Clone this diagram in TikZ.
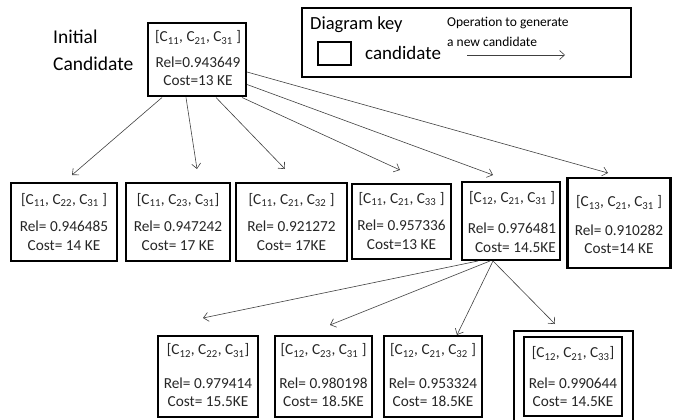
\documentclass[tikz,border=0pt]{standalone}
\usepackage{fontspec}
\setmainfont{Carlito}
\usetikzlibrary{arrows.meta}
\newcommand{\cs}[1]{C\textsubscript{#1}}
\tikzset{
  cand/.style={draw=black, line width=2pt, rectangle, inner sep=0pt},
  ctext/.style={align=center, font=\fontsize{15.3}{18.5}\selectfont, inner sep=0pt, text=black!85},
  op/.style={draw=black!75, line width=0.6pt, -{Straight Barb[length=5pt,width=9pt]}},
  keytext/.style={inner sep=0pt, anchor=west},
}
\begin{document}
\begin{tikzpicture}[x=1pt,y=-1pt]
\useasboundingbox (0,0) rectangle (673,420);
% initial candidate
\node[keytext, font=\fontsize{19.5}{27}\selectfont, align=left, anchor=north west] (lbl) at (53,30) {Initial\\Candidate};
\node[cand, minimum width=98pt, minimum height=73pt] (init) at (197,60) {};
\node[ctext] (tinit) at (198,58.5) {[\cs{11}, \cs{21}, \cs{31} ]\\[7pt]Rel=0.943649\\Cost=13 KE};
% key
\node[cand, minimum width=329pt, minimum height=69pt] (key) at (466.5,42.5) {};
\node[keytext, font=\fontsize{18.5}{22}\selectfont] (keyt) at (310,25) {Diagram key};
\node[cand, minimum width=33pt, minimum height=23pt] (keybox) at (334.5,54) {};
\node[keytext, font=\fontsize{19}{22}\selectfont] (keyc) at (365,53) {candidate};
\node[keytext, font=\fontsize{13.5}{20}\selectfont, align=left, anchor=north west] (keyo) at (447,17) {Operation to generate\\a new candidate};
\coordinate (ko1) at (467,55);
\coordinate (ko2) at (565,55);
\draw[op] (ko1) -- (ko2);
% row 2
\node[cand, minimum width=106pt, minimum height=78pt] (b1) at (64,222) {};
\node[ctext] (t1) at (64,222) {[\cs{11}, \cs{22}, \cs{31} ]\\[9pt]Rel= 0.946485\\Cost= 14 KE};
\node[cand, minimum width=104pt, minimum height=78pt] (b2) at (178,222) {};
\node[ctext] (t2) at (178,222) {[\cs{11}, \cs{23}, \cs{31}]\\[9pt]Rel= 0.947242\\Cost= 17 KE};
\node[cand, minimum width=111pt, minimum height=78pt] (b3) at (291.5,222) {};
\node[ctext] (t3) at (291.5,222) {[\cs{11}, \cs{21}, \cs{32} ]\\[9pt]Rel= 0.921272\\Cost= 17KE};
\node[cand, minimum width=99pt, minimum height=75pt] (b4) at (401.5,221.5) {};
\node[ctext] (t4) at (401.5,221) {[\cs{11}, \cs{21}, \cs{33} ]\\[9pt]Rel= 0.957336\\Cost=13 KE};
\node[cand, minimum width=98pt, minimum height=78pt] (b5) at (511,221) {};
\node[ctext] (t5) at (512,222) {[\cs{12}, \cs{21}, \cs{31} ]\\[13pt]Rel= 0.976481\\\ \ Cost= 14.5KE};
\node[cand, line width=2.8pt, minimum width=103pt, minimum height=90pt] (b6) at (619,223) {};
\node[ctext] (t6) at (619,225) {[\cs{13}, \cs{21}, \cs{31} ]\\[10pt]Rel= 0.910282\\Cost=14 KE};
% row 3
\node[cand, minimum width=100pt, minimum height=81pt] (c1) at (208,376.5) {};
\node[ctext] (u1) at (208,375.5) {[\cs{12}, \cs{22}, \cs{31}]\\[15pt]Rel= 0.979414\\Cost= 15.5KE};
\node[cand, minimum width=97pt, minimum height=81pt] (c2) at (323.5,376.5) {};
\node[ctext] (u2) at (323.5,375.5) {[\cs{12}, \cs{23}, \cs{31} ]\\[15pt]Rel= 0.980198\\Cost= 18.5KE};
\node[cand, minimum width=98pt, minimum height=81pt] (c3) at (433,376.5) {};
\node[ctext] (u3) at (433,375.5) {[\cs{12}, \cs{21}, \cs{32} ]\\[15pt]Rel= 0.953324\\Cost= 18.5KE};
\node[cand, minimum width=119pt, minimum height=95pt] (c4o) at (573,378.5) {};
\node[cand, minimum width=98pt, minimum height=79pt] (c4) at (573,376.5) {};
\node[ctext] (u4) at (573,377) {[\cs{12}, \cs{21}, \cs{33}]\\[12pt]Rel= 0.990644\\Cost= 14.5KE};
% arrow ends
\coordinate (e1) at (72,175);
\coordinate (e2) at (197,169);
\coordinate (e3) at (285,169);
\coordinate (e4) at (400,170);
\coordinate (e5) at (493,175);
\coordinate (e6) at (608,173);
\coordinate (f1) at (203,318);
\coordinate (f2) at (330,325);
\coordinate (f3) at (457,335);
\coordinate (f4) at (555,324);
% arrows from initial
\draw[op] ([xshift=15pt]init.south west) -- (e1);
\draw[op] ([xshift=39pt]init.south west) -- (e2);
\draw[op] ([xshift=69pt]init.south west) -- (e3);
\draw[op] ([xshift=-5pt]init.south east) -- (e4);
\draw[op] ([yshift=13pt]init.south east) -- (e5);
\draw[op] ([yshift=-12pt]init.east) -- (e6);
% arrows from b5
\draw[op] ([xshift=-33pt]b5.south) -- (f1);
\draw[op] ([xshift=-21pt]b5.south) -- (f2);
\draw[op] ([xshift=-18pt]b5.south) -- (f3);
\draw[op] ([xshift=-18pt]b5.south) -- (f4);
\end{tikzpicture}
\end{document}
